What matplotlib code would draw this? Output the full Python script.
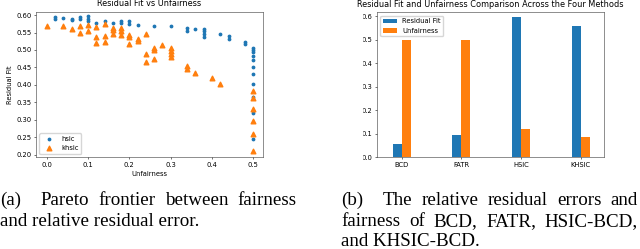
import matplotlib
matplotlib.use("Agg")
import matplotlib.pyplot as plt
from matplotlib.patches import Rectangle
import numpy as np

# scatter (a): residual fit vs unfairness
hsic_x = [0.02, 0.02, 0.04, 0.06, 0.06, 0.08, 0.08, 0.10, 0.10, 0.10,
          0.12, 0.14, 0.16, 0.18, 0.18, 0.20, 0.20, 0.22, 0.26, 0.30,
          0.34, 0.34, 0.36, 0.38, 0.38, 0.38, 0.38, 0.42, 0.44, 0.44,
          0.48, 0.48, 0.50, 0.50, 0.50, 0.50, 0.50, 0.50, 0.50, 0.50,
          0.50, 0.50, 0.50]
hsic_y = [0.593, 0.588, 0.591, 0.589, 0.586, 0.593, 0.588, 0.597, 0.590, 0.584,
          0.578, 0.584, 0.576, 0.582, 0.576, 0.582, 0.574, 0.572, 0.568, 0.570,
          0.563, 0.555, 0.561, 0.561, 0.555, 0.547, 0.536, 0.545, 0.541, 0.530,
          0.524, 0.516, 0.506, 0.500, 0.493, 0.483, 0.470, 0.451, 0.430, 0.403,
          0.366, 0.319, 0.246]
khsic_x = [0.00, 0.04, 0.06, 0.08, 0.08, 0.10, 0.10, 0.12, 0.12, 0.12,
           0.14, 0.14, 0.14, 0.16, 0.16, 0.16, 0.18, 0.18, 0.18, 0.20,
           0.20, 0.20, 0.22, 0.22, 0.24, 0.24, 0.24, 0.26, 0.26, 0.26,
           0.28, 0.30, 0.30, 0.30, 0.30, 0.34, 0.34, 0.36, 0.40, 0.42,
           0.50, 0.50, 0.50, 0.50, 0.50, 0.50]
khsic_y = [0.568, 0.570, 0.561, 0.570, 0.549, 0.572, 0.553, 0.566, 0.536, 0.520,
           0.574, 0.541, 0.524, 0.564, 0.557, 0.547, 0.563, 0.555, 0.543, 0.543,
           0.536, 0.518, 0.530, 0.526, 0.547, 0.488, 0.465, 0.507, 0.499, 0.474,
           0.515, 0.505, 0.497, 0.488, 0.480, 0.455, 0.447, 0.434, 0.419, 0.403,
           0.384, 0.362, 0.331, 0.298, 0.260, 0.211]

# bars (b)
methods = ["BCD", "FATR", "HSIC", "KHSIC"]
residual_fit = [0.057, 0.097, 0.598, 0.558]
unfairness = [0.500, 0.500, 0.121, 0.085]

cap_a = [["(a)", "Pareto", "frontier", "between", "fairness"],
         ["and relative residual error."]]
cap_b = [["(b)", "The", "relative", "residual", "errors", "and"],
         ["fairness", "of", "BCD,", "FATR,", "HSIC-BCD,"],
         ["and KHSIC-BCD."]]

W, H = 640, 249
fig = plt.figure(figsize=(6.4, 2.49), dpi=100)

s = 0.485  # everything in the panels is shrunk like a scaled-down image
plt.rcParams.update({
    "font.size": 10 * s,
    "axes.linewidth": 0.8 * s,
    "xtick.major.width": 0.8 * s, "ytick.major.width": 0.8 * s,
    "xtick.major.size": 3.5 * s, "ytick.major.size": 3.5 * s,
    "xtick.major.pad": 3.5 * s, "ytick.major.pad": 3.5 * s,
    "axes.edgecolor": "#333333",
})

def px_axes(left, right, top, bottom):
    return fig.add_axes([left / W, 1 - bottom / H, (right - left) / W, (bottom - top) / H])

ax1 = px_axes(36, 263, 11.7, 157.3)
ax1.scatter(hsic_x, hsic_y, marker=".", s=12, color="#1f77b4", label="hsic")
ax1.scatter(khsic_x, khsic_y, marker="^", s=11, color="#ff7f0e", label="khsic")
ax1.set_xlim(-0.026, 0.5235)
ax1.set_ylim(0.193, 0.6095)
ax1.set_yticks(np.arange(0.20, 0.601, 0.05))
ax1.set_title("Residual Fit vs Unfairness", fontsize=12 * s, pad=8 * s)
ax1.set_xlabel("Unfairness", labelpad=4 * s)
ax1.set_ylabel("Residual Fit", labelpad=4 * s)
ax1.legend(loc="lower left", borderpad=0.4, handletextpad=0.8, labelspacing=0.5)

ax2 = px_axes(377, 604, 12.3, 157.3)
idx = np.arange(len(methods))
w = 0.15
ax2.bar(idx - w / 2, residual_fit, w, color="#1f77b4", label="Residual Fit")
ax2.bar(idx + w / 2, unfairness, w, color="#ff7f0e", label="Unfairness")
ax2.set_xticks(idx)
ax2.set_xticklabels(methods)
ax2.set_xlim(-0.414, 3.39)
ax2.set_ylim(0, 0.617)
ax2.set_yticks(np.arange(0, 0.61, 0.1))
ax2.set_title("Residual Fit and Unfairness Comparison Across the Four Methods",
              fontsize=12 * s, pad=8 * s)
ax2.legend(loc="upper left")

# the right picture was cropped at its left edge (tick labels lose a sliver)
fig.add_artist(Rectangle((300 / W, 1 - 175 / H), 62 / W, 165 / H,
                         transform=fig.transFigure, color="white", zorder=10))

# captions, justified like the paper
cap_font = dict(family="Liberation Serif", fontsize=13.7, va="baseline", zorder=11)
renderer = fig.canvas.get_renderer()

def caption_line(words, x0, x1, base, justify=True, label_gap=0):
    y = 1 - base / H
    texts = [fig.text(0, y, wd, **cap_font) for wd in words]
    if not justify or len(words) == 1:
        texts[0].set_x(x0 / W)
        return
    widths = [t.get_window_extent(renderer).width for t in texts]
    gap = (x1 - x0 - sum(widths) - label_gap) / (len(words) - 1)
    x = x0
    for i, (t, wd) in enumerate(zip(texts, widths)):
        t.set_x(x / W)
        x += wd + gap + (label_gap if i == 0 else 0)

caption_line(cap_a[0], 0.5, 297, 205, label_gap=10)
caption_line(cap_a[1], 0.5, 297, 226, justify=False)
caption_line(cap_b[0], 341, 638, 205, label_gap=10)
caption_line(cap_b[1], 341, 638, 226)
caption_line(cap_b[2], 341, 638, 246, justify=False)

fig.savefig("out.png", dpi=100)
